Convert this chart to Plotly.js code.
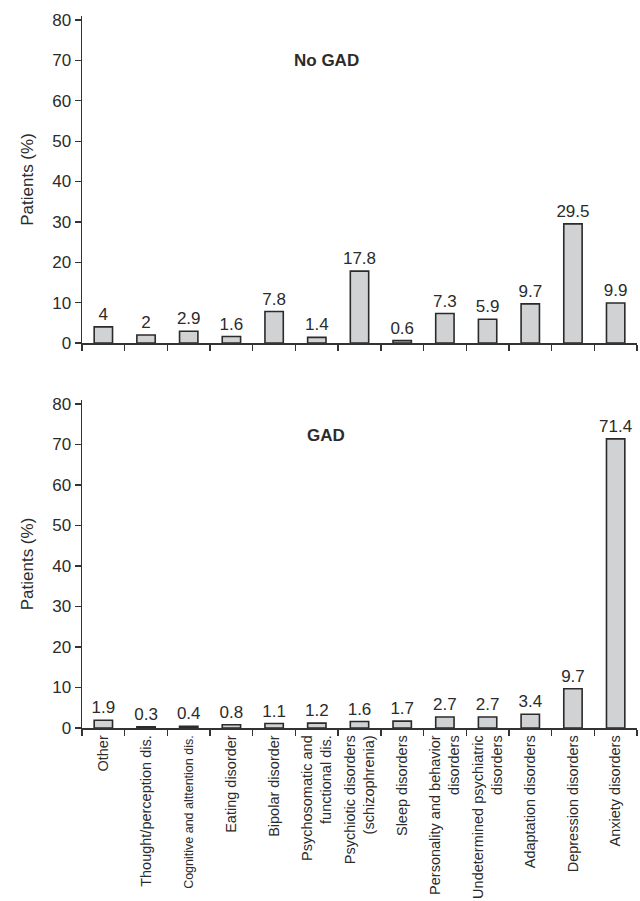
<!DOCTYPE html>
<html><head><meta charset="utf-8">
<script src="https://cdn.plot.ly/plotly-3.0.1.min.js"></script>
<style>html,body{margin:0;padding:0;background:#fff}</style>
</head><body>
<div id="chart" style="width:640px;height:901px"></div>
<script>
const categories = ["Other","Thought/perception dis.","Cognitive and alttention dis.","Eating disorder","Bipolar disorder","Psychosomatic and<br>functional dis.","Psychiotic disorders<br>(schizophrenia)","Sleep disorders","Personality and behavior<br>disorders","Undetermined psychiatric<br>disorders","Adaptation disorders","Depression disorders","Anxiety disorders"];
const noGadValues = [4, 2, 2.9, 1.6, 7.8, 1.4, 17.8, 0.6, 7.3, 5.9, 9.7, 29.5, 9.9];
const gadValues = [1.9, 0.3, 0.4, 0.8, 1.1, 1.2, 1.6, 1.7, 2.7, 2.7, 3.4, 9.7, 71.4];
const yTickVals = [0, 10, 20, 30, 40, 50, 60, 70, 80];
const panelTitles = ["No GAD", "GAD"];
const yTitle = "Patients (%)";

const FONT = "Liberation Sans, Arial, sans-serif";
const TXT = "#2b2b2b";
const AX = "#333333";

function barTrace(vals, xa, ya) {
  return {
    type: "bar", x: categories, y: vals, xaxis: xa, yaxis: ya,
    width: 0.43,
    marker: {color: "#d1d2d4", line: {color: "#2b2b2b", width: 1.6}},
    text: vals.map(String), textposition: "outside", textangle: 0, constraintext: "none",
    textfont: {family: FONT, size: 17, color: TXT},
    cliponaxis: false, hoverinfo: "skip"
  };
}

function yAxis(domain) {
  return {
    domain: domain, range: [0, 81], tickvals: yTickVals, ticks: "outside", ticklen: 6,
    tickwidth: 1.3, tickcolor: AX, showline: true, linecolor: AX, linewidth: 1.5,
    showgrid: false, zeroline: false, fixedrange: true,
    tickfont: {family: FONT, size: 17, color: TXT},
    title: {text: yTitle, font: {family: FONT, size: 17, color: TXT}, standoff: 14}
  };
}

// long single-line label is set slightly smaller so that it fits the page
const tickLabels = categories.map(c => (c.length > 26 && c.indexOf("<br>") < 0)
  ? '<span style="font-size:12.5px">' + c + '</span>' : c);

function xAxis(anchor, showLabels) {
  return {
    anchor: anchor, type: "category", range: [-0.5, 12.5], tickson: "boundaries",
    tickmode: "array", tickvals: categories, ticktext: tickLabels,
    ticks: "outside", ticklen: 6, tickwidth: 1.3, tickcolor: AX,
    showline: true, linecolor: AX, linewidth: 1.5, showgrid: false, zeroline: false,
    showticklabels: showLabels, tickangle: -90, fixedrange: true,
    tickfont: {family: FONT, size: 14.5, color: TXT}, automargin: false
  };
}

const H = 901;
const layout = {
  width: 640, height: H,
  margin: {l: 82, r: 3, t: 0, b: 0},
  paper_bgcolor: "#fff", plot_bgcolor: "#fff",
  showlegend: false, bargap: 0.5,
  xaxis: xAxis("y", false),
  yaxis: yAxis([1 - 343 / H, 1 - 16 / H]),
  xaxis2: xAxis("y2", true),
  yaxis2: yAxis([1 - 728 / H, 1 - 400 / H]),
  annotations: [
    {text: "<b>" + panelTitles[0] + "</b>", xref: "paper", yref: "paper", x: (326 - 82) / 555, y: 1 - 49 / H,
     showarrow: false, font: {family: FONT, size: 17, color: TXT}},
    {text: "<b>" + panelTitles[1] + "</b>", xref: "paper", yref: "paper", x: (326 - 82) / 555, y: 1 - 435 / H,
     showarrow: false, font: {family: FONT, size: 17, color: TXT}}
  ]
};

Plotly.newPlot("chart", [barTrace(noGadValues, "x", "y"), barTrace(gadValues, "x2", "y2")], layout, {displayModeBar: false, staticPlot: true});
</script>
</body></html>
